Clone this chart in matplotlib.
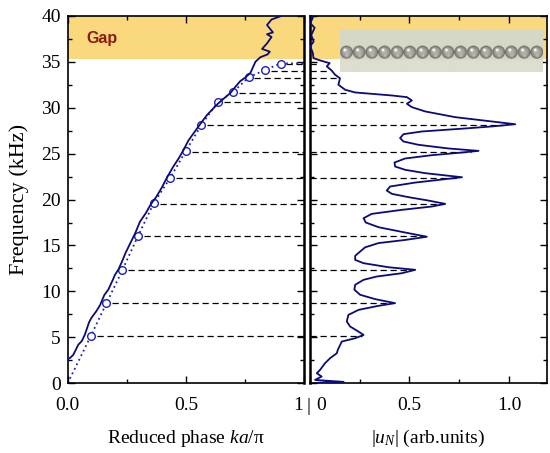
import numpy as np
import matplotlib
matplotlib.use("Agg")
import matplotlib.pyplot as plt
from matplotlib.ticker import MultipleLocator
from matplotlib.transforms import ScaledTranslation

# measured dispersion (left panel, solid line)
phase_meas = [0, 0.012, 0.024, 0.045, 0.06, 0.073, 0.09, 0.10, 0.12, 0.137, 0.155,
              0.172, 0.19, 0.2, 0.215, 0.229, 0.245, 0.264, 0.285, 0.306, 0.33,
              0.352, 0.375, 0.398, 0.42, 0.447, 0.47, 0.49, 0.51, 0.532, 0.56,
              0.589, 0.615, 0.638, 0.665, 0.688, 0.71, 0.73, 0.752, 0.773, 0.794,
              0.815, 0.845, 0.855, 0.822, 0.843, 0.862, 0.843, 0.868, 0.843,
              0.862, 0.905]
freq_meas = [2.6, 2.8, 3.1, 4.2, 4.6, 5.3, 6.6, 7.1, 7.8, 8.5, 9.6,
             10.2, 11.2, 11.8, 12.4, 13.2, 14.2, 15.2, 16.3, 17.6, 18.5,
             19.5, 20.3, 21.3, 22.4, 23.6, 24.5, 25.4, 26.4, 27.2, 28.2,
             29.2, 29.9, 30.5, 31.1, 31.6, 32.3, 32.9, 33.3, 33.8, 35.0,
             35.5, 35.8, 36.1, 36.4, 37.0, 37.7, 38.0, 38.2, 39.0,
             39.6, 40.0]

# resonance modes (open circles)
phase_modes = [0.097, 0.164, 0.231, 0.297, 0.364, 0.432, 0.5, 0.565, 0.634,
               0.699, 0.765, 0.833, 0.9]
freq_modes = [5.1, 8.7, 12.3, 16.0, 19.6, 22.3, 25.3, 28.1, 30.6, 31.7, 33.3,
              34.1, 34.8]

# theoretical curve (dotted)
phase_theory = [0] + phase_modes + [1.0]
freq_theory = [0] + freq_modes + [34.85]

# dashed guide lines: frequency and peak amplitude reached in the right panel
guide_freq = [5.1, 8.7, 12.3, 16.0, 19.5, 22.3, 25.2, 28.1, 30.6, 31.6, 33.2,
              34.05, 34.8]
guide_amp = [0.26, 0.40, 0.51, 0.58, 0.67, 0.74, 0.81, 0.97, 0.47, 0.18, 0.14,
             0.09, 0.04]

# amplitude spectrum (right panel)
spec_freq = [0.05, 0.15, 0.36, 0.73, 1.09, 1.45, 2.18, 2.72, 3.27, 3.63, 4.54,
             4.9, 5.26, 5.74, 6.17, 6.72, 7.44, 7.99, 8.43, 8.72, 9.16, 9.63,
             10.18, 10.72, 11.26, 11.62, 11.98, 12.35, 12.63, 13.07, 13.43,
             13.87, 14.34, 14.8, 15.26, 15.6, 15.95, 16.48, 16.99, 17.5, 17.97,
             18.44, 18.88, 19.24, 19.53, 19.89, 20.26, 20.62, 20.98, 21.42,
             21.85, 22.22, 22.43, 22.87, 23.24, 23.6, 24.03, 24.47, 24.83,
             25.12, 25.3, 25.56, 25.96, 26.32, 26.69, 27.12, 27.41, 27.74,
             27.96, 28.2, 28.5, 28.97, 29.59, 30.06, 30.43, 30.79, 31.15, 31.33,
             31.66, 31.95, 32.5, 33.2, 33.6, 34.05, 34.5, 34.85, 35.15, 35.4,
             35.95, 36.7, 37.2, 37.9, 38.7, 39.2, 39.8, 40.0]
spec_amp = [0.04, 0.17, 0.027, 0.06, 0.036, 0.052, 0.077, 0.102, 0.136, 0.141,
            0.161, 0.228, 0.27, 0.236, 0.203, 0.186, 0.194, 0.245, 0.345, 0.428,
            0.328, 0.253, 0.224, 0.228, 0.27, 0.336, 0.462, 0.529, 0.395, 0.27,
            0.228, 0.228, 0.253, 0.278, 0.345, 0.478, 0.587, 0.462, 0.345,
            0.281, 0.27, 0.311, 0.462, 0.612, 0.679, 0.595, 0.495, 0.412, 0.386,
            0.403, 0.529, 0.679, 0.763, 0.579, 0.478, 0.428, 0.425, 0.478,
            0.612, 0.763, 0.846, 0.696, 0.545, 0.47, 0.453, 0.47, 0.562, 0.779,
            0.913, 1.03, 0.913, 0.729, 0.579, 0.512, 0.487, 0.512, 0.487, 0.412,
            0.228, 0.178, 0.144, 0.152, 0.127, 0.11, 0.086, 0.10, 0.052, 0.019,
            0.016, 0.003, 0.02, 0.008, 0.025, 0.003, 0.016, 0.01]

gap_low, gap_high = 35.3, 40.0

navy = "#0b0b78"
dot_blue = "#1f1fc0"
gap_color = "#fad87e"

plt.rcParams["font.family"] = ["Liberation Serif", "DejaVu Serif"]
plt.rcParams["mathtext.fontset"] = "custom"
plt.rcParams["mathtext.rm"] = "Liberation Serif"
plt.rcParams["mathtext.it"] = "Liberation Serif:italic"


def chain_image(n_balls=16, scale=4):
    # little rendered picture of the bead chain
    h, w = 42 * scale, 202 * scale
    img = np.zeros((h, w, 3))
    yy, xx = np.mgrid[0:h, 0:w]
    img[:] = np.array([214, 216, 198]) / 255
    img[int(h * 0.72):] = np.array([222, 222, 208]) / 255
    r = w / n_balls / 2
    cy = h * 0.535
    for i in range(n_balls):
        cx = r + 2 * r * i
        dx = (xx - cx) / r
        dy = (yy - cy) / r
        d2 = dx ** 2 + dy ** 2
        inside = d2 < 1
        nz = np.sqrt(np.clip(1 - d2, 0, 1))
        val = 0.28 + 0.42 * nz
        val += 0.55 * np.exp(-((dx + 0.25) ** 2 + (dy + 0.35) ** 2) / 0.04)
        val += 0.15 * np.exp(-((dx - 0.1) ** 2 + (dy - 0.6) ** 2) / 0.05)
        val = np.clip(val, 0, 1)
        for c, tint in enumerate([1.0, 1.0, 0.95]):
            ch = img[:, :, c]
            ch[inside] = val[inside] * tint
    return img


fig = plt.figure(figsize=(5.5, 4.53), dpi=100)
ax1 = fig.add_axes([0.123, 0.154, 0.430, 0.811])
ax2 = fig.add_axes([0.563, 0.154, 0.432, 0.811])

# left panel
ax1.axhspan(gap_low, gap_high, color=gap_color, lw=0, zorder=0)
ax1.hlines(guide_freq, np.array(phase_modes) + 0.025, 1.0, colors="k",
           linestyles=(0, (5, 3)), lw=0.9, zorder=1)
ax1.plot(phase_theory, freq_theory, ls=(0, (1, 1.8)), color=dot_blue, lw=1.3,
         zorder=2)
ax1.plot(phase_modes, freq_modes, "o", mfc="white", mec=dot_blue, ms=5.5,
         mew=1.0, zorder=3)
ax1.plot(phase_meas, freq_meas, color=navy, lw=1.3, zorder=4)
ax1.text(0.08, 37.5, "Gap", color="#8b1a10", fontsize=11.5, fontweight="bold",
         family="Liberation Sans", va="center", ha="left")

ax1.set_xlim(0, 1)
ax1.set_ylim(0, 40)
ax1.set_xticks([0, 0.5, 1])
ax1.set_xticklabels(["0.0", "0.5", "1"])
ax1.xaxis.set_minor_locator(MultipleLocator(0.25))
ax1.yaxis.set_major_locator(MultipleLocator(5))
ax1.yaxis.set_minor_locator(MultipleLocator(2.5))
ax1.set_xlabel("Reduced phase $ka$/π", fontsize=14, labelpad=10)
ax1.set_ylabel("Frequency (kHz)", fontsize=16, labelpad=9)

# right panel
ax2.axhspan(gap_low, gap_high, color=gap_color, lw=0, zorder=0)
ax2.hlines(guide_freq, 0, guide_amp, colors="k", linestyles=(0, (5, 3)),
           lw=0.9, zorder=1)
ax2.plot(spec_amp, spec_freq, color=navy, lw=1.3, zorder=4)
ax2.set_xlim(0, 1.19)
ax2.set_ylim(0, 40)
ax2.set_xticks([0, 0.5, 1.0])
ax2.set_xticklabels(["0", "0.5", "1.0"])
ax2.xaxis.set_minor_locator(MultipleLocator(0.25))
ax2.yaxis.set_major_locator(MultipleLocator(5))
ax2.yaxis.set_minor_locator(MultipleLocator(2.5))
ax2.set_yticklabels([])
ax2.set_xlabel("|$u_N$| (arb.units)", fontsize=14, labelpad=10)

inset = ax2.inset_axes([0.152, 33.9, 1.015, 4.6], transform=ax2.transData)
inset.imshow(chain_image(), aspect="auto", interpolation="bilinear")
inset.axis("off")

for ax in (ax1, ax2):
    ax.tick_params(which="both", direction="in", top=True, right=True,
                   labelsize=14, width=1.0)
    ax.tick_params(which="major", length=5)
    ax.tick_params(which="minor", length=3)
    ax.tick_params(axis="x", pad=10)
    ax.tick_params(axis="y", pad=5)
    for s in ax.spines.values():
        s.set_linewidth(1.2)
ax1.spines["right"].set_linewidth(1.8)
ax2.spines["left"].set_linewidth(1.8)

# nudge the "1" and "0" labels apart and put the separator bar between them
lab1 = ax1.get_xticklabels()[-1]
lab1.set_transform(lab1.get_transform() + ScaledTranslation(-4 / 72, 0, fig.dpi_scale_trans))
lab0 = ax2.get_xticklabels()[0]
lab0.set_transform(lab0.get_transform() + ScaledTranslation(8 / 72, 0, fig.dpi_scale_trans))
fig.text(0.561, 0.102, "|", fontsize=14, ha="center", va="center")

fig.savefig("out.png", dpi=100)
